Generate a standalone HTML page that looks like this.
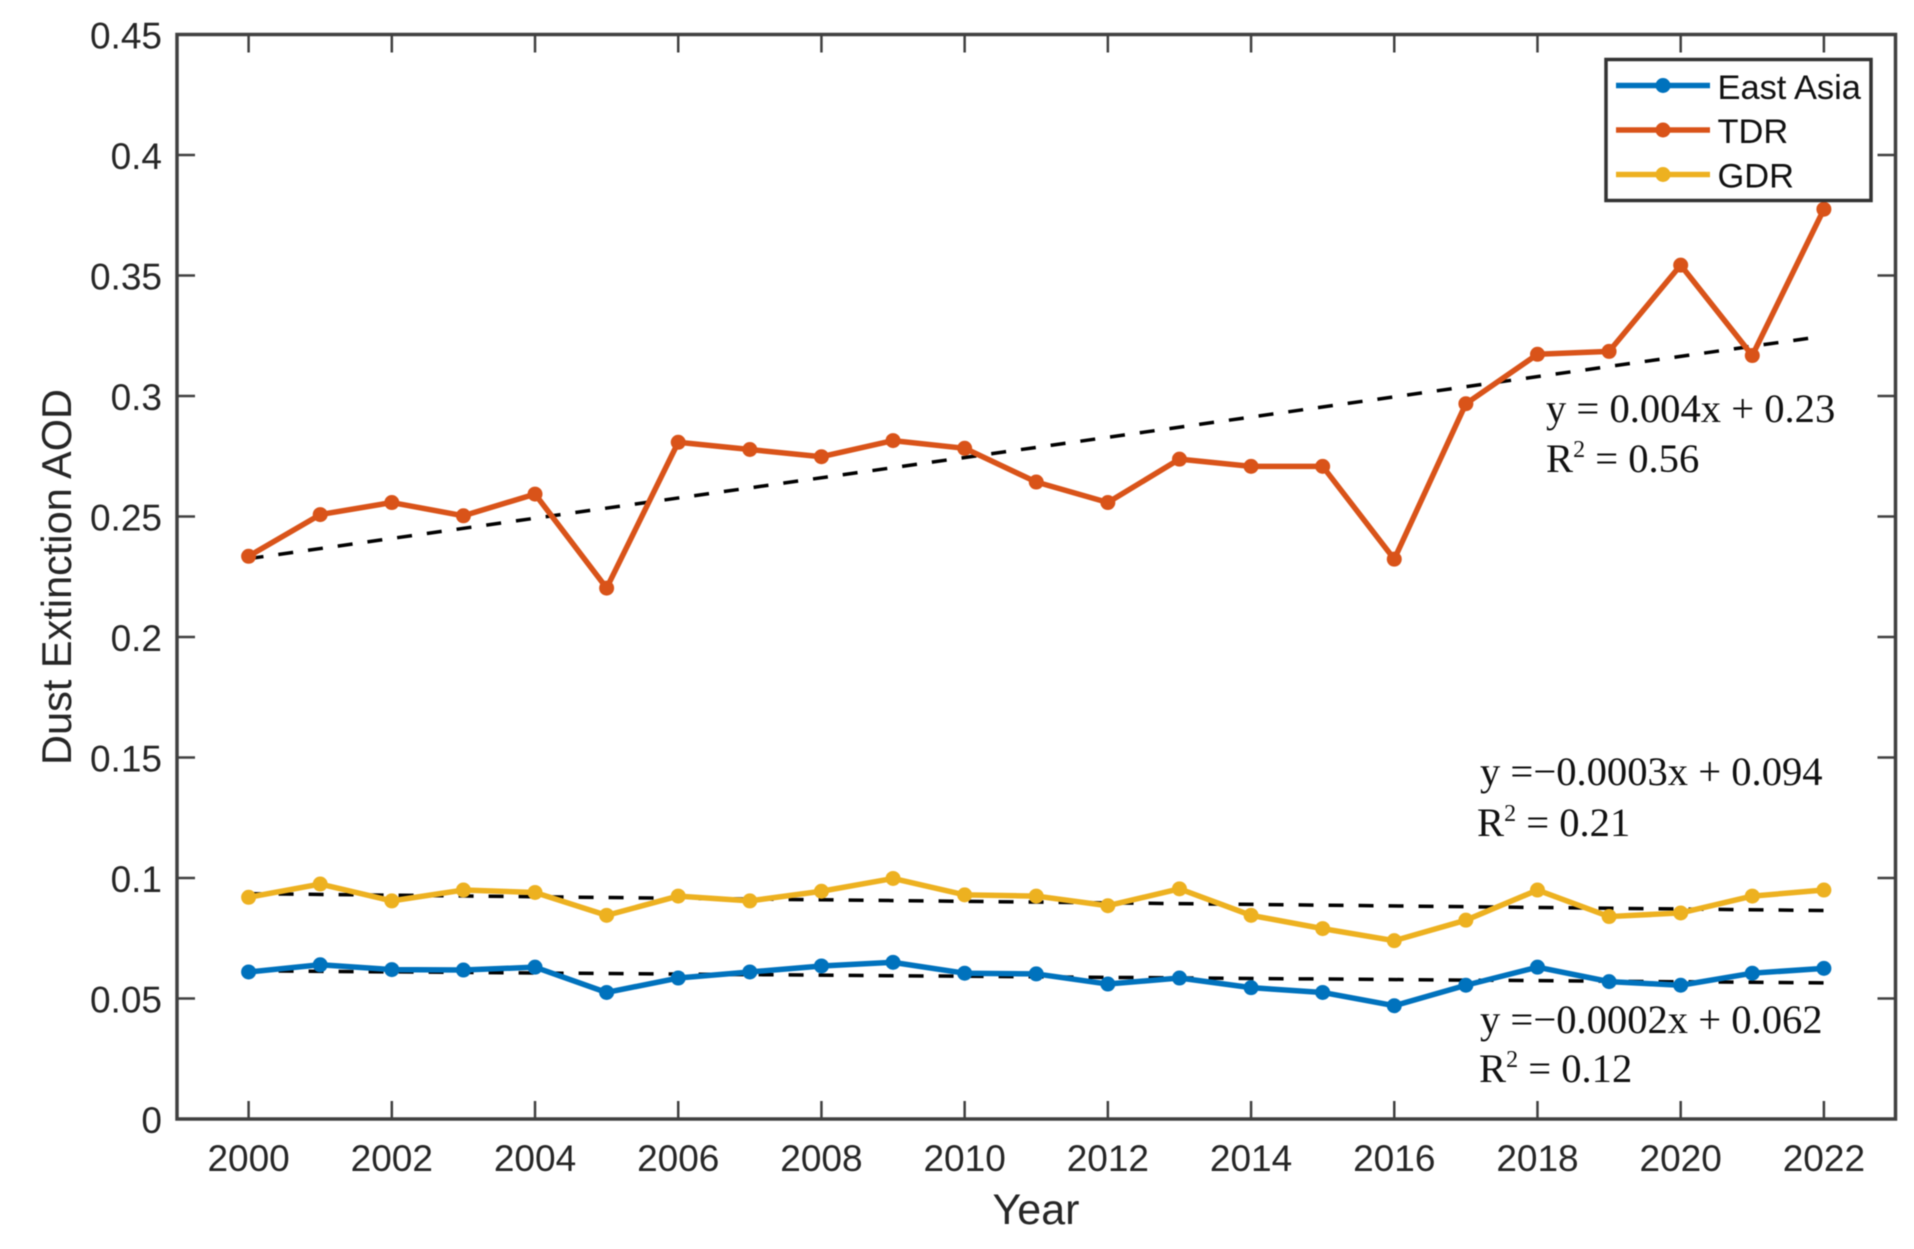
<!DOCTYPE html>
<html lang="en">
<head>
<meta charset="utf-8">
<title>Dust Extinction AOD</title>
<style>
html,body{margin:0;padding:0;background:#fff;width:1914px;height:1249px;overflow:hidden}
svg{display:block;filter:blur(.5px)}
.tick{font-family:"Liberation Sans",sans-serif;font-size:37px;fill:#262626}
.title{font-family:"Liberation Sans",sans-serif;fill:#262626}
.leg{font-family:"Liberation Sans",sans-serif;font-size:34.4px;fill:#111}
.ann{font-family:"Liberation Serif",serif;font-size:40.6px;fill:#111}
.sup{font-size:24px}
</style>
</head>
<body>
<svg id="chart" xmlns="http://www.w3.org/2000/svg" width="1914" height="1249" viewBox="0 0 1914 1249">
  <g id="trends"></g>
  <g id="series"></g>
  <g id="axes"></g>
  <text class="title" x="1036" y="1224" font-size="43" text-anchor="middle">Year</text>
  <text class="title" transform="translate(71,577) rotate(-90)" font-size="41.5" text-anchor="middle">Dust Extinction AOD</text>
  <text class="ann" x="1546" y="422">y = 0.004x + 0.23</text>
  <text class="ann" x="1546" y="472">R<tspan class="sup" dy="-15">2</tspan><tspan dy="15"> = 0.56</tspan></text>
  <text class="ann" x="1480" y="785">y =−0.0003x + 0.094</text>
  <text class="ann" x="1477" y="836">R<tspan class="sup" dy="-15">2</tspan><tspan dy="15"> = 0.21</tspan></text>
  <text class="ann" x="1480" y="1033">y =−0.0002x + 0.062</text>
  <text class="ann" x="1479" y="1082">R<tspan class="sup" dy="-15">2</tspan><tspan dy="15"> = 0.12</tspan></text>
  <g id="legend">
    <rect x="1606" y="59.5" width="265" height="141" fill="#fff" stroke="#333" stroke-width="3.5"/>
    <g>
      <line x1="1616" x2="1710" y1="85.5" y2="85.5" stroke="#0072BD" stroke-width="5.5"/>
      <circle cx="1663" cy="85.5" r="7.5" fill="#0072BD"/>
      <text class="leg" x="1717.5" y="99">East Asia</text>
    </g>
    <g>
      <line x1="1616" x2="1710" y1="130" y2="130" stroke="#D95319" stroke-width="5.5"/>
      <circle cx="1663" cy="130" r="7.5" fill="#D95319"/>
      <text class="leg" x="1717.5" y="143">TDR</text>
    </g>
    <g>
      <line x1="1616" x2="1710" y1="174.5" y2="174.5" stroke="#EDB120" stroke-width="5.5"/>
      <circle cx="1663" cy="174.5" r="7.5" fill="#EDB120"/>
      <text class="leg" x="1717.5" y="187.5">GDR</text>
    </g>
  </g>
</svg>
<script>
const years = [2000,2001,2002,2003,2004,2005,2006,2007,2008,2009,2010,2011,2012,2013,2014,2015,2016,2017,2018,2019,2020,2021,2022];
const eastAsia = [0.061,0.064,0.062,0.0618,0.063,0.0525,0.0585,0.061,0.0635,0.065,0.0605,0.0602,0.056,0.0585,0.0545,0.0525,0.047,0.0555,0.063,0.057,0.0555,0.0605,0.0625];
const tdr = [0.2335,0.2508,0.2558,0.2503,0.2593,0.2203,0.2808,0.2778,0.2748,0.2815,0.2783,0.2643,0.2558,0.2738,0.2708,0.2708,0.2323,0.2968,0.3173,0.3185,0.3543,0.3168,0.3775];
const gdr = [0.092,0.0975,0.0905,0.095,0.094,0.0845,0.0925,0.0905,0.0945,0.0998,0.093,0.0925,0.0885,0.0955,0.0845,0.079,0.074,0.0825,0.095,0.084,0.0855,0.0925,0.095];
const trendYearsTdr = [2000,2021.8];
const trendTdr = [0.2325,0.324];
const trendYearsOther = [2000,2022];
const trendGdr = [0.0935,0.0865];
const trendEastAsia = [0.0615,0.0565];
const xTickYears = [2000,2002,2004,2006,2008,2010,2012,2014,2016,2018,2020,2022];
const yTickLabels = ["0","0.05","0.1","0.15","0.2","0.25","0.3","0.35","0.4","0.45"];

const NS = "http://www.w3.org/2000/svg";
const plotLeft = 177, plotRight = 1895.5, plotTop = 34.5, plotBottom = 1119;
const xMin = 1999, xMax = 2023, yMin = 0, yMax = 0.45;
function xScale(v){ return plotLeft + (v - xMin) / (xMax - xMin) * (plotRight - plotLeft); }
function yScale(v){ return plotBottom - (v - yMin) / (yMax - yMin) * (plotBottom - plotTop); }
function make(tag, attrs, parent){
  const n = document.createElementNS(NS, tag);
  for (const k in attrs) n.setAttribute(k, attrs[k]);
  parent.appendChild(n);
  return n;
}
function pointsOf(xs, ys){ return xs.map((x, i) => xScale(x).toFixed(2) + "," + yScale(ys[i]).toFixed(2)).join(" "); }

const trendsG = document.getElementById("trends");
function drawTrend(xs, ys, name){
  const l = make("polyline", {points: pointsOf(xs, ys), fill: "none", stroke: "#000", "stroke-width": 3.5, "stroke-dasharray": "15 15"}, trendsG);
  
  
}
const seriesG = document.getElementById("series");
function drawSeries(ys, color, name){
  const g = make("g", {}, seriesG);
  
  
  const l = make("polyline", {points: pointsOf(years, ys), fill: "none", stroke: color, "stroke-width": 5.5, "stroke-linejoin": "round"}, g);
  
  
  ys.forEach((v, i) => {
    const c = make("circle", {cx: xScale(years[i]), cy: yScale(v), r: 7.5, fill: color}, g);
    
    
  });
}
drawSeries(eastAsia, "#0072BD", "east-asia-series");
drawSeries(tdr, "#D95319", "tdr-series");
drawSeries(gdr, "#EDB120", "gdr-series");
drawTrend(trendYearsTdr, trendTdr, "tdr-trend-line");
drawTrend(trendYearsOther, trendGdr, "gdr-trend-line");
drawTrend(trendYearsOther, trendEastAsia, "east-asia-trend-line");

const axesG = document.getElementById("axes");
const axisColor = "#404040", tickLen = 18;
const frame = make("rect", {x: plotLeft, y: plotTop, width: plotRight - plotLeft, height: plotBottom - plotTop, fill: "none", stroke: axisColor, "stroke-width": 3.5}, axesG);


xTickYears.forEach(y => {
  const x = xScale(y);
  const b = make("line", {x1: x, x2: x, y1: plotBottom, y2: plotBottom - tickLen, stroke: axisColor, "stroke-width": 2.5}, axesG);
  
  
  const t = make("line", {x1: x, x2: x, y1: plotTop, y2: plotTop + tickLen, stroke: axisColor, "stroke-width": 2.5}, axesG);
  
  
  const lab = make("text", {x: x, y: 1171, "text-anchor": "middle", "class": "tick"}, axesG);
  
  
  lab.textContent = String(y);
});
yTickLabels.forEach(s => {
  const v = parseFloat(s), y = yScale(v);
  const a = make("line", {x1: plotLeft, x2: plotLeft + tickLen, y1: y, y2: y, stroke: axisColor, "stroke-width": 2.5}, axesG);
  
  
  const r = make("line", {x1: plotRight, x2: plotRight - tickLen, y1: y, y2: y, stroke: axisColor, "stroke-width": 2.5}, axesG);
  
  
  const lab = make("text", {x: 162, y: y + 14, "text-anchor": "end", "class": "tick"}, axesG);
  
  
  lab.textContent = s;
});
</script>
</body>
</html>
